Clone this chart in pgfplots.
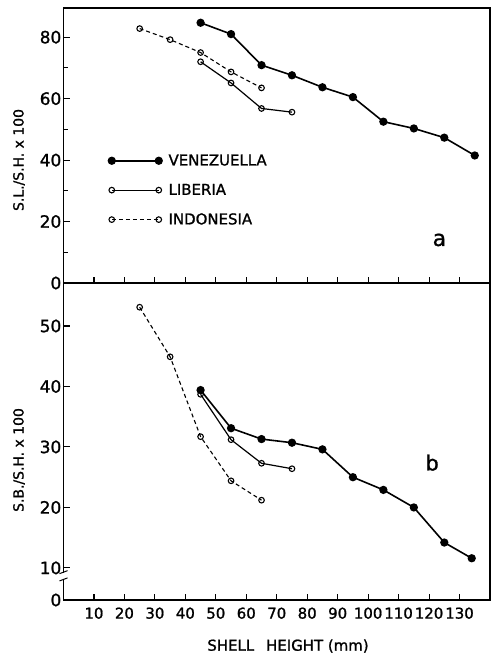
\documentclass[border=0pt]{standalone}
\usepackage{pgfplots}
\pgfplotsset{compat=1.18}
\usepackage{fontspec}
\setmainfont{DejaVu Sans}[FakeBold=1.2]
\begin{document}
\begin{tikzpicture}
\path[use as bounding box] (0,0) rectangle (492bp,657bp);
\pgfplotsset{
  common/.style={
    scale only axis, width=426.5bp, xmin=0, xmax=140,
    xtick={10,20,...,130}, tick align=inside, tick pos=left,
    major tick length=6bp, minor tick length=4bp,
    axis line style={line width=1.4bp},
    every tick/.style={line width=1.1bp, black},
    /pgf/number format/assume math mode=true,
    yticklabel style={font=\fontsize{17}{17}\selectfont, inner sep=2bp},
    xticklabel style={font=\fontsize{15}{15}\selectfont, yshift=-4bp},
    clip=false,
  },
  ven/.style={black, line width=1.6bp, mark=*, mark size=3.3bp, mark options={solid}},
  lib/.style={black, line width=1.2bp, mark=o, mark size=2.8bp, mark options={solid, fill=white, line width=1.1bp}},
  ind/.style={black, line width=1.1bp, dash pattern=on 4bp off 3bp, mark=o, mark size=2.8bp, mark options={solid, fill=white, line width=1.1bp}},
}
\begin{axis}[common, at={(63.5bp,374bp)}, anchor=south west, height=275bp,
  ymin=0, ymax=89.5, ytick={0,20,...,80}, minor ytick={10,30,50,70},
  xticklabels={},
  legend style={draw=none, fill=none, inner sep=0pt, at={(axis description cs:0.105,0.475)}, anchor=north west,
    font=\fontsize{15}{15}\selectfont, row sep=13bp, cells={anchor=west}},
  legend image code/.code={\draw[#1] plot coordinates {(0bp,0bp) (47bp,0bp)}; \path (54bp,0bp);},
  ]
\addplot[ven] coordinates {(45,84.7)(55,81.0)(65,70.9)(75,67.6)(85,63.7)(95,60.5)(105,52.5)(115,50.3)(125,47.3)(135,41.5)};
\addlegendentry{VENEZUELLA}
\addplot[lib] coordinates {(45,72.0)(55,65.1)(65,56.8)(75,55.6)};
\addlegendentry{LIBERIA}
\addplot[ind] coordinates {(25,82.8)(35,79.2)(45,75.0)(55,68.7)(65,63.5)};
\addlegendentry{INDONESIA}
\node[font=\fontsize{22}{22}\selectfont] at (axis cs:123.4,14) {a};
\end{axis}
\begin{axis}[common, at={(63.5bp,57bp)}, anchor=south west, height=317bp,
  ymin=4.7, ymax=57.1, ytick={10,20,...,50},
  extra y ticks={4.7}, extra y tick labels={0}, extra y tick style={major tick length=0pt},
  ]
\addplot[ven] coordinates {(45,39.4)(55,33.1)(65,31.3)(75,30.7)(85,29.6)(95,25.0)(105,22.9)(115,20.0)(125,14.2)(134,11.6)};
\addplot[lib] coordinates {(45,38.7)(55,31.2)(65,27.3)(75,26.4)};
\addplot[ind] coordinates {(25,53.1)(35,44.9)(45,31.7)(55,24.4)(65,21.2)};
\node[font=\fontsize{21}{21}\selectfont] at (axis cs:121,27.4) {b};
\fill[white] ([xshift=-3bp]axis cs:0,8.2) rectangle ([xshift=3bp]axis cs:0,9.2);
\draw[line width=1bp] ([xshift=-4bp,yshift=-1.5bp]axis cs:0,9.3) -- ([xshift=4bp,yshift=1.5bp]axis cs:0,9.3);
\draw[line width=1bp] ([xshift=-4bp,yshift=-1.5bp]axis cs:0,8.1) -- ([xshift=4bp,yshift=1.5bp]axis cs:0,8.1);
\end{axis}
\node[rotate=90, font=\fontsize{14}{14}\selectfont] at (19bp,497bp) {S.L./S.H. x 100};
\node[rotate=90, font=\fontsize{14}{14}\selectfont] at (19bp,197bp) {S.B./S.H. x 100};
\node[font=\fontsize{15}{15}\selectfont] at (288bp,11bp) {SHELL\hspace{0.8em}HEIGHT (mm)};
\end{tikzpicture}
\end{document}
